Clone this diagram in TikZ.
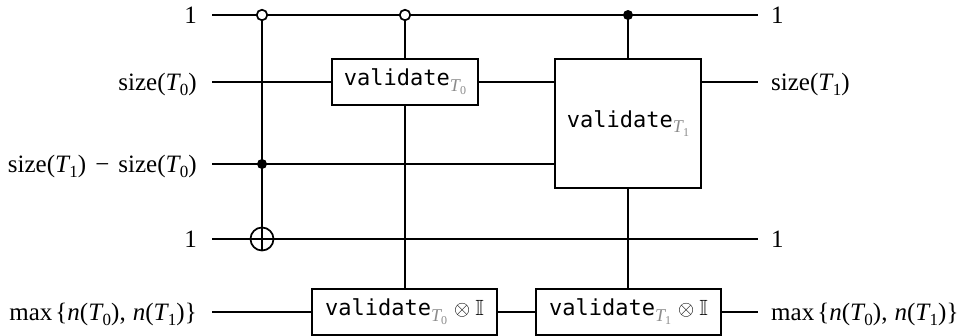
\documentclass[tikz,border=0pt]{standalone}
\usepackage{amssymb}
\usepackage{fontspec}
\setmainfont{Liberation Serif}
\setmonofont{DejaVu Sans Mono}
\definecolor{subgray}{gray}{0.55}
\newcommand{\Tz}[1]{\textit{T}\kern-1pt\raisebox{-0.2em}{\fontsize{17}{17}\selectfont #1}}
\newcommand{\vsub}[1]{{\ttfamily validate}\raisebox{-0.25em}{\color{subgray}\fontsize{18}{18}\selectfont\textit{T}\kern-1pt\raisebox{-0.2em}{\fontsize{12}{12}\selectfont #1}}}
\newcommand{\maxlab}{max\kern3pt\{\textit{n}(\Tz{0}),\kern7pt\textit{n}(\Tz{1})\}}
\tikzset{
 x=1pt,y=-1pt,
 wire/.style={line width=1.7pt,line cap=butt},
 gatebox/.style={draw,line width=1.7pt,fill=white,minimum height=46pt,inner sep=0pt,font=\fontsize{22}{25}\selectfont},
 lab/.style={inner sep=0pt,font=\fontsize{25}{28}\selectfont},
 ctrlw/.style={circle,draw,line width=1.7pt,fill=white,minimum size=10.5pt,inner sep=0pt},
 ctrlb/.style={circle,fill=black,minimum size=10pt,inner sep=0pt},
 xorc/.style={circle,draw,line width=1.7pt,minimum size=23pt,inner sep=0pt},
}
\begin{document}
\begin{tikzpicture}
\useasboundingbox (0,0) rectangle (972,335);
% rail ends
\coordinate (a0) at (212,15);  \coordinate (a1) at (758,15);
\coordinate (b0) at (212,82);  \coordinate (b1) at (758,82);
\coordinate (c0) at (212,164);
\coordinate (d0) at (212,239); \coordinate (d1) at (758,239);
\coordinate (e0) at (212,312); \coordinate (e1) at (758,312);
% control points
\coordinate (n1) at (262,15);
\coordinate (n2) at (405,15);
\coordinate (n3) at (628,15);
\coordinate (n4) at (262,164);
\coordinate (xc) at (262,239);
% wires
\draw[wire] (a0) -- (a1);
\draw[wire] (b0) -- (b1);
\draw[wire] (d0) -- (d1);
\draw[wire] (e0) -- (e1);
% boxes
\node[gatebox,minimum width=185pt] (g3) at (404.5,312) {\vsub{0}\kern7pt$\otimes$\kern5pt$\mathbb{I}$};
\node[gatebox,minimum width=185pt] (g4) at (628.5,312) {\vsub{1}\kern7pt$\otimes$\kern5pt$\mathbb{I}$};
\draw[wire] (n2) -- (n2 |- g3.north);
\draw[wire] (n3) -- (n3 |- g4.north);
\node[gatebox,minimum width=146pt,minimum height=129pt] (g2) at (628,123.5) {\vsub{1}};
\draw[wire] (c0) -- (g2.west |- c0);
\draw[wire] (n1) -- (xc);
\node[gatebox,minimum width=146pt] (g1) at (405,82) {\vsub{0}};
% controls
\node[ctrlw] (k1) at (n1) {};
\node[ctrlw] (k2) at (n2) {};
\node[ctrlb] (k3) at (n3) {};
\node[ctrlb] (k4) at (n4) {};
\node[xorc] (x) at (xc) {};
\draw[wire] (x.north) -- (x.south);
% labels
\node[lab,anchor=base east] (l1) at (197,23) {1};
\node[lab,anchor=base east] (l2) at (197,90) {size(\Tz{0})};
\node[lab,anchor=base east] (l3) at (197,172) {size(\Tz{1})\kern9pt−\kern9pt size(\Tz{0})};
\node[lab,anchor=base east] (l4) at (197,247) {1};
\node[lab,anchor=base east] (l5) at (197,320) {\maxlab};
\node[lab,anchor=base west] (r1) at (771,23) {1};
\node[lab,anchor=base west] (r2) at (771,90) {size(\Tz{1})};
\node[lab,anchor=base west] (r4) at (771,247) {1};
\node[lab,anchor=base west] (r5) at (771,320) {\maxlab};
\end{tikzpicture}
\end{document}
